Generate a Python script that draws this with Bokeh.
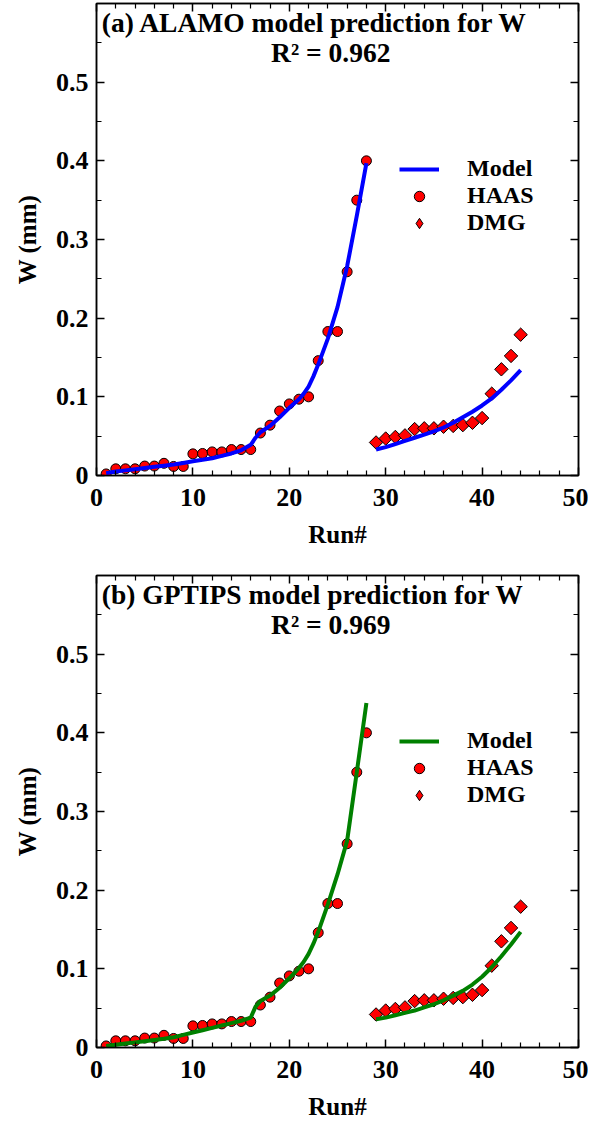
import math
from bokeh.plotting import figure
from bokeh.layouts import column
from bokeh.models import Range1d, FixedTicker, LinearAxis, Legend, LegendItem, Label
from bokeh.embed import file_html
from bokeh.resources import INLINE

FONT = "Liberation Serif"

# ---- data ----
runs_haas = list(range(1, 29))
w_haas = [0.002, 0.0085, 0.0085, 0.0085, 0.012, 0.012, 0.0155, 0.0115, 0.0115, 0.0275,
          0.028, 0.030, 0.030, 0.033, 0.033, 0.033, 0.054, 0.064, 0.082, 0.091,
          0.097, 0.100, 0.146, 0.183, 0.183, 0.259, 0.350, 0.400]
runs_dmg = list(range(29, 45))
w_dmg = [0.042, 0.047, 0.049, 0.051, 0.059, 0.060, 0.060, 0.062, 0.063, 0.064,
         0.067, 0.073, 0.104, 0.135, 0.152, 0.179]

model_x1 = [1, 2, 3, 4, 5, 6, 7, 8, 9, 10, 11, 12, 13, 14, 15, 16, 16.5,
            17, 18, 19, 20, 21, 21.5, 22, 22.5, 23, 24, 25, 26, 27, 28]
alamo_y1 = [0.003, 0.005, 0.0065, 0.008, 0.0095, 0.011, 0.0125, 0.014, 0.016, 0.018,
            0.020, 0.022, 0.025, 0.028, 0.032, 0.039, 0.048,
            0.055, 0.063, 0.074, 0.086, 0.097, 0.104, 0.113, 0.126, 0.141,
            0.174, 0.214, 0.266, 0.330, 0.397]
gptips_y1 = [0.002, 0.0035, 0.005, 0.0065, 0.008, 0.0095, 0.011, 0.013, 0.016, 0.019,
             0.022, 0.025, 0.028, 0.031, 0.034, 0.038, 0.052,
             0.059, 0.066, 0.076, 0.088, 0.101, 0.109, 0.119, 0.132, 0.147,
             0.182, 0.220, 0.263, 0.350, 0.438]
model_x2 = list(range(29, 45))
alamo_y2 = [0.033, 0.036, 0.040, 0.044, 0.048, 0.052, 0.056, 0.061, 0.067, 0.074,
            0.081, 0.089, 0.098, 0.109, 0.121, 0.134]
gptips_y2 = [0.036, 0.038, 0.041, 0.044, 0.047, 0.051, 0.055, 0.060, 0.066, 0.072,
             0.080, 0.090, 0.102, 0.116, 0.131, 0.147]

x_ticks = [0, 10, 20, 30, 40, 50]
x_minor = [v for v in range(0, 51, 2) if v % 10 != 0]
y_ticks = [0, 0.1, 0.2, 0.3, 0.4, 0.5]
y_tick_labels = ["0", "0.1", "0.2", "0.3", "0.4", "0.5"]
y_minor = [0.05, 0.15, 0.25, 0.35, 0.45, 0.55]

panels = [
    ("(a) ALAMO model prediction for W", "R\u00b2 = 0.962", "#0000FF", alamo_y1, alamo_y2),
    ("(b) GPTIPS model prediction for W", "R\u00b2 = 0.969", "#008000", gptips_y1, gptips_y2),
]


def style_axis(ax, show_labels):
    ax.major_tick_in = 8
    ax.major_tick_out = 0
    ax.minor_tick_in = 5
    ax.minor_tick_out = 0
    ax.axis_line_width = 1.5
    ax.major_tick_line_width = 1.5
    ax.minor_tick_line_width = 1.2
    ax.axis_line_color = "black"
    if show_labels:
        ax.major_label_text_font = FONT
        ax.major_label_text_font_style = "bold"
        ax.major_label_text_font_size = "26px"
        ax.major_label_text_color = "black"
        ax.axis_label_text_font = FONT
        ax.axis_label_text_font_style = "bold"
        ax.axis_label_text_font_size = "25px"
        ax.axis_label_text_color = "black"
    else:
        ax.major_label_text_font_size = "1px"
        ax.major_label_text_color = None
        ax.major_label_standoff = 0


figs = []
for i, (title, r2, color, my1, my2) in enumerate(panels):
    p = figure(frame_width=482, frame_height=472,
               x_range=Range1d(0, 50), y_range=Range1d(0, 0.6),
               output_backend="svg", toolbar_location=None,
               min_border_left=96, min_border_right=10,
               min_border_top=3 if i == 0 else 8,
               min_border_bottom=92 if i == 0 else 80)
    p.xgrid.visible = False
    p.ygrid.visible = False
    p.outline_line_color = "black"
    p.outline_line_width = 1.5

    xa = p.xaxis[0]
    xa.ticker = FixedTicker(ticks=x_ticks, minor_ticks=x_minor)
    xa.axis_label = "Run#"
    style_axis(xa, True)
    xa.major_label_standoff = 13
    xa.axis_label_standoff = 12

    ya = p.yaxis[0]
    ya.ticker = FixedTicker(ticks=y_ticks, minor_ticks=y_minor)
    ya.major_label_overrides = {t: l for t, l in zip(y_ticks, y_tick_labels)}
    ya.axis_label = "W (mm)"
    style_axis(ya, True)
    ya.major_label_standoff = 8
    ya.axis_label_standoff = 12

    top = LinearAxis(ticker=FixedTicker(ticks=x_ticks, minor_ticks=x_minor))
    style_axis(top, False)
    p.add_layout(top, "above")
    right = LinearAxis(ticker=FixedTicker(ticks=y_ticks, minor_ticks=y_minor))
    style_axis(right, False)
    p.add_layout(right, "right")

    s1 = p.scatter(runs_haas, w_haas, marker="circle", size=10,
                   fill_color="#FF0000", line_color="black", line_width=1)
    # diamond renderer used as the legend swatch (legend glyphs are drawn unrotated);
    # on the plot it sits fully hidden under the rotated squares drawn next
    s2_key = p.scatter(runs_dmg, w_dmg, marker="diamond", size=10,
                       fill_color="#FF0000", line_color="black", line_width=1)
    p.scatter(runs_dmg, w_dmg, marker="square", angle=math.pi / 4, size=9.5,
              fill_color="#FF0000", line_color="black", line_width=1)
    l1 = p.line(model_x1, my1, line_color=color, line_width=4)
    p.line(model_x2, my2, line_color=color, line_width=4)

    legend = Legend(items=[LegendItem(label="Model", renderers=[l1]),
                           LegendItem(label="HAAS", renderers=[s1]),
                           LegendItem(label="DMG", renderers=[s2_key])],
                    location=(303, 239))
    legend.border_line_color = None
    legend.background_fill_alpha = 0
    legend.label_text_font = FONT
    legend.label_text_font_style = "bold"
    legend.label_text_font_size = "24px"
    legend.label_text_color = "black"
    legend.glyph_width = 40
    legend.glyph_height = 26
    legend.label_height = 20
    legend.label_standoff = 28
    legend.spacing = 0
    legend.padding = 0
    legend.margin = 0
    p.add_layout(legend)

    p.add_layout(Label(x=0.55, y=0.576, text=title, text_font=FONT,
                       text_font_style="bold", text_font_size="27.5px",
                       text_baseline="middle", text_align="left", text_color="black"))
    p.add_layout(Label(x=24.3, y=0.538, text=r2, text_font=FONT,
                       text_font_style="bold", text_font_size="27.5px",
                       text_baseline="middle", text_align="center", text_color="black"))
    figs.append(p)

layout = column(*figs, spacing=0)
open("out.html", "w").write(file_html(layout, INLINE))
